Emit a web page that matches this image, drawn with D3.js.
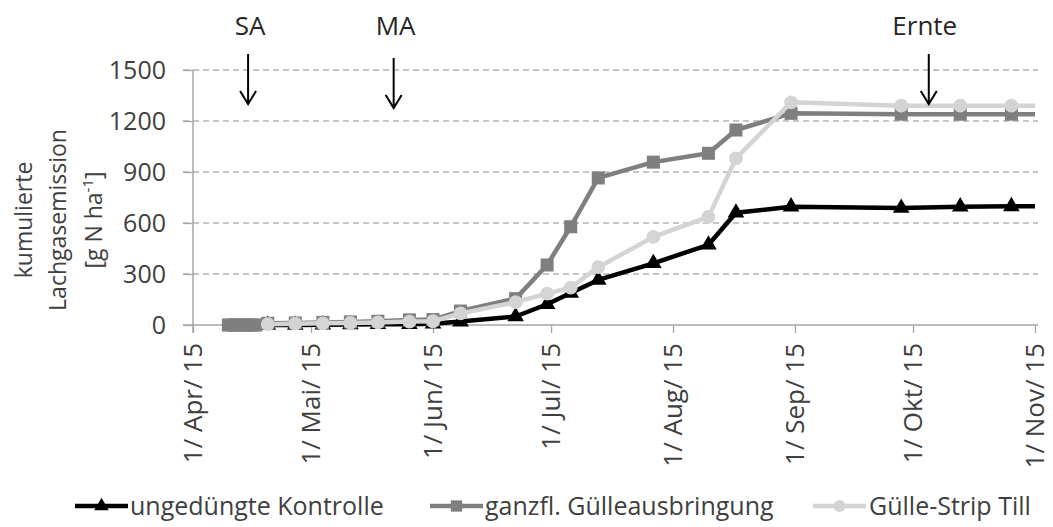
<!DOCTYPE html>
<html>
<head>
<meta charset="utf-8">
<script src="https://cdn.jsdelivr.net/npm/d3@7"></script>
<style>
  html, body { margin: 0; padding: 0; background: #fff; }
  svg { display: block; font-family: "Open Sans", sans-serif; }
</style>
</head>
<body>
<svg id="chart" width="1053" height="527"></svg>
<script>
// Sampling dates (2015) and cumulative N2O emission per treatment [g N ha^-1]
const samplingDates = [
  "2015-04-10", "2015-04-11", "2015-04-12", "2015-04-13", "2015-04-14", "2015-04-15",
  "2015-04-16", "2015-04-17", "2015-04-20", "2015-04-27", "2015-05-04", "2015-05-11",
  "2015-05-18", "2015-05-26", "2015-06-01", "2015-06-08", "2015-06-22", "2015-06-30",
  "2015-07-06", "2015-07-13", "2015-07-27", "2015-08-10", "2015-08-17", "2015-08-31",
  "2015-09-28", "2015-10-13", "2015-10-26", "2015-11-09"
];
const kontrolle = [null, null, null, null, null, null, null, null, 0, 0, 2, 3, 5, 5, 8, 20, 50, 122, 188, 265, 363, 472, 660, 696, 688, 696, 698, 698];
const ganzflaechig = [0, 0, 0, 0, 0, 0, 0, 0, 10, 12, 15, 18, 22, 30, 32, 82, 155, 353, 578, 865, 958, 1010, 1147, 1245, 1240, 1240, 1240, 1240];
const stripTill = [null, null, null, null, null, null, null, null, 5, 8, 10, 12, 15, 20, 22, 68, 135, 185, 220, 340, 518, 636, 980, 1310, 1290, 1290, 1290, 1290];

const seriesNames = ["ungedüngte Kontrolle", "ganzfl. Gülleausbringung", "Gülle-Strip Till"];

// Axis ticks
const monthTicks = ["2015-04-01", "2015-05-01", "2015-06-01", "2015-07-01", "2015-08-01", "2015-09-01", "2015-10-01", "2015-11-01"];
const monthLabels = ["1/ Apr/ 15", "1/ Mai/ 15", "1/ Jun/ 15", "1/ Jul/ 15", "1/ Aug/ 15", "1/ Sep/ 15", "1/ Okt/ 15", "1/ Nov/ 15"];
const yTicks = [0, 300, 600, 900, 1200, 1500];

// Field operations
const eventDates = ["2015-04-15", "2015-05-22", "2015-10-05"];
const eventLabels = ["SA", "MA", "Ernte"];

const parse = d3.utcParse("%Y-%m-%d");
const svg = d3.select("#chart");

const x = d3.scaleUtc()
  .domain([parse(monthTicks[0]), parse(monthTicks[monthTicks.length - 1])])
  .range([193, 1035]);
const y = d3.scaleLinear().domain([0, 1500]).range([325, 70]);

const axisGray = "#a6a6a6";
const textColor = "#404040";

// Horizontal grid lines
svg.append("g").selectAll("line")
  .data(yTicks.filter(v => v > 0))
  .join("line")
  .attr("x1", 183).attr("x2", 1038)
  .attr("y1", d => y(d)).attr("y2", d => y(d))
  .attr("stroke", "#b4b4b4").attr("stroke-width", 1.3)
  .attr("stroke-dasharray", "6,4");

// Y axis
const yAxis = d3.axisLeft(y).tickValues(yTicks).tickFormat(d3.format("d")).tickSize(10).tickPadding(17);
const yg = svg.append("g").attr("transform", "translate(193,0)").call(yAxis);
yg.select(".domain").remove();
yg.selectAll(".tick line").attr("stroke", axisGray).attr("stroke-width", 1.3);
yg.selectAll(".tick text")
  .attr("fill", textColor).attr("font-size", 25)
  .attr("font-family", "'Open Sans', sans-serif");
svg.append("line")
  .attr("x1", 193).attr("x2", 193).attr("y1", 70).attr("y2", 333)
  .attr("stroke", axisGray).attr("stroke-width", 1.5);

// X axis
const xAxis = d3.axisBottom(x)
  .tickValues(monthTicks.map(parse))
  .tickSize(8)
  .tickFormat((d, i) => monthLabels[i]);
const xg = svg.append("g").attr("transform", `translate(0,${y(0)})`).call(xAxis);
xg.select(".domain").attr("stroke", axisGray).attr("stroke-width", 1.5)
  .attr("d", `M183,0H1038`);
xg.selectAll(".tick line").attr("stroke", axisGray).attr("stroke-width", 1.3);
xg.selectAll(".tick text")
  .attr("fill", textColor).attr("font-size", 26)
  .attr("font-family", "'Open Sans', sans-serif")
  .attr("text-anchor", "end")
  .attr("dy", "0.32em")
  .attr("transform", "translate(0,18) rotate(-90)")
  .attr("x", 0).attr("y", 0);

// Y axis title
const title = svg.append("text")
  .attr("transform", "translate(0,220) rotate(-90)")
  .attr("text-anchor", "middle")
  .attr("fill", textColor).attr("font-size", 23);
title.append("tspan").attr("x", 0).attr("y", 32).text("kumulierte");
title.append("tspan").attr("x", 0).attr("y", 66).text("Lachgasemission");
const unit = title.append("tspan").attr("x", 0).attr("y", 102);
unit.append("tspan").text("[g N ha");
unit.append("tspan").attr("font-size", 15).attr("dy", -9).text("-1");
unit.append("tspan").attr("dy", 9).text("]");

// Series
svg.append("clipPath").attr("id", "plot-clip")
  .append("rect").attr("x", 193).attr("y", 0).attr("width", 842).attr("height", 527);

const series = [
  { name: seriesNames[0], values: kontrolle, color: "#000000", symbol: d3.symbolTriangle, size: 120 },
  { name: seriesNames[1], values: ganzflaechig, color: "#7f7f7f", symbol: d3.symbolSquare, size: 170 },
  { name: seriesNames[2], values: stripTill, color: "#d4d4d4", symbol: d3.symbolCircle, size: 150 }
];

const line = d3.line()
  .defined(d => d.v !== null)
  .x(d => x(d.date))
  .y(d => y(d.v));

const plot = svg.append("g").attr("clip-path", "url(#plot-clip)");
series.forEach(s => {
  const pts = samplingDates.map((d, i) => ({ date: parse(d), v: s.values[i] }));
  const g = plot.append("g");
  g.append("path")
    .datum(pts)
    .attr("d", line)
    .attr("fill", "none")
    .attr("stroke", s.color)
    .attr("stroke-width", 4.5)
    .attr("stroke-linejoin", "round");
  g.selectAll("path.marker")
    .data(pts.filter(p => p.v !== null))
    .join("path")
    .attr("class", "marker")
    .attr("d", d3.symbol().type(s.symbol).size(s.size))
    .attr("transform", p => `translate(${x(p.date)},${y(p.v)})`)
    .attr("fill", s.color);
});

// Field operation arrows
const ev = svg.append("g");
eventDates.forEach((d, i) => {
  const ex = x(parse(d));
  const top = i === 1 ? 58 : 54;
  const bottom = top + 50;
  ev.append("text")
    .attr("x", ex + (i === 2 ? -4 : 2)).attr("y", 35)
    .attr("text-anchor", "middle")
    .attr("fill", "#262626").attr("font-size", 26)
    .text(eventLabels[i]);
  ev.append("line")
    .attr("x1", ex).attr("x2", ex).attr("y1", top).attr("y2", bottom)
    .attr("stroke", "#000").attr("stroke-width", 2);
  ev.append("path")
    .attr("d", `M${ex - 8},${bottom - 13}L${ex},${bottom}L${ex + 8},${bottom - 13}`)
    .attr("fill", "none").attr("stroke", "#000").attr("stroke-width", 2);
});

// Legend
const legendItems = [
  { s: series[0], x0: 75, tx: 130 },
  { s: series[1], x0: 430, tx: 485 },
  { s: series[2], x0: 813, tx: 869 }
];
const lg = svg.append("g");
legendItems.forEach(item => {
  const ly = 506;
  lg.append("line")
    .attr("x1", item.x0).attr("x2", item.x0 + 53)
    .attr("y1", ly).attr("y2", ly)
    .attr("stroke", item.s.color).attr("stroke-width", 4.5);
  lg.append("path")
    .attr("d", d3.symbol().type(item.s.symbol).size(item.s.size * 0.75))
    .attr("transform", `translate(${item.x0 + 26.5},${ly})`)
    .attr("fill", item.s.color);
  lg.append("text")
    .attr("x", item.tx).attr("y", ly)
    .attr("dy", "0.35em")
    .attr("fill", textColor).attr("font-size", 25)
    .text(item.s.name);
});
</script>
</body>
</html>
